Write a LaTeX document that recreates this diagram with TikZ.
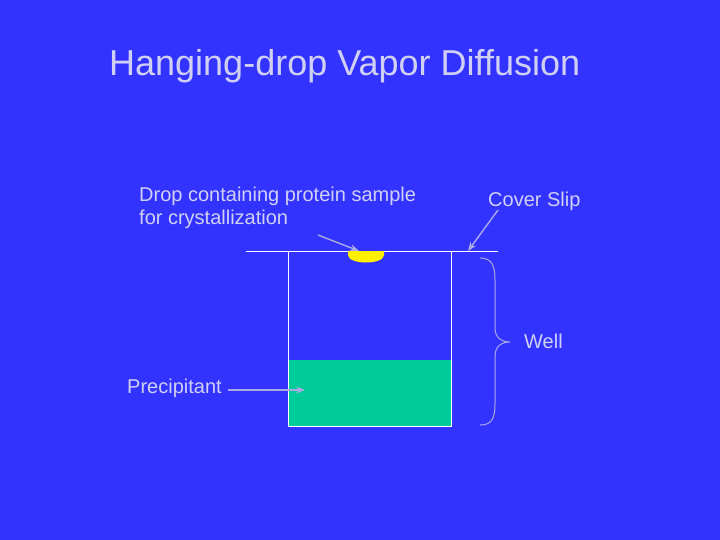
\documentclass[tikz,border=0pt]{standalone}
\usepackage{fontspec}
\setmainfont{Liberation Sans}
\usepackage{tikz}
\usetikzlibrary{arrows.meta}
\definecolor{slideblue}{RGB}{51,51,255}
\definecolor{labeltext}{RGB}{208,208,245}
\definecolor{pointer}{RGB}{170,170,230}
\definecolor{precip}{RGB}{0,204,153}
\definecolor{dropyellow}{RGB}{255,240,0}

\begin{document}
\begin{tikzpicture}[x=1pt,y=-1pt,
  label/.style={text=labeltext,inner sep=0pt,align=left,font=\fontsize{20}{22.5}\selectfont},
  pointer/.style={draw=pointer,line width=1.4pt,-{Stealth[length=9pt,width=7pt]}},
  wall/.style={draw=white,line width=1pt}]
			\fill[slideblue] (0,0) rectangle (720,540);
			\useasboundingbox (0,0) rectangle (720,540);
			% title and labels
			\node[label,anchor=west,font=\fontsize{36}{40}\selectfont] (title) at (109,66) {Hanging-drop Vapor Diffusion};
			\node[label,anchor=north west] (droplabel) at (139,187) {Drop containing protein sample\\for crystallization};
			\node[label,anchor=west] (sliplabel) at (488,201) {Cover Slip};
			\node[label,anchor=west] (welllabel) at (524,341) {Well};
			\node[label,anchor=west] (preciplabel) at (127,388) {Precipitant};
			% well and cover slip
			\fill[precip] (288,360) rectangle (451,426);
			\draw[wall] (288,251) -- (288,426) -- (451,426) -- (451,251);
			\draw[wall] (246,251) -- (498,251);
			\fill[dropyellow] (348,251) -- (384,251) -- (384,255) .. controls (384,265) and (348,265) .. (348,255) -- cycle;
			\coordinate (droptip) at (359,251);
			\coordinate (sliptip) at (468,251);
			\coordinate (preciptip) at (305,390);
			% pointers
			\draw[pointer] (318,235) -- (droptip);
			\draw[pointer] (498,210) -- (sliptip);
			\draw[pointer] (228,390) -- (preciptip);
			% brace
			\draw[draw=pointer,line width=1pt] (480,258) .. controls (492,258) and (495,266) .. (495,280)
			  -- (495,328) .. controls (495,338) and (502,342) .. (510,342)
			  .. controls (502,342) and (495,346) .. (495,356)
			  -- (495,404) .. controls (495,418) and (492,425) .. (480,425);
			\end{tikzpicture}
\end{document}
